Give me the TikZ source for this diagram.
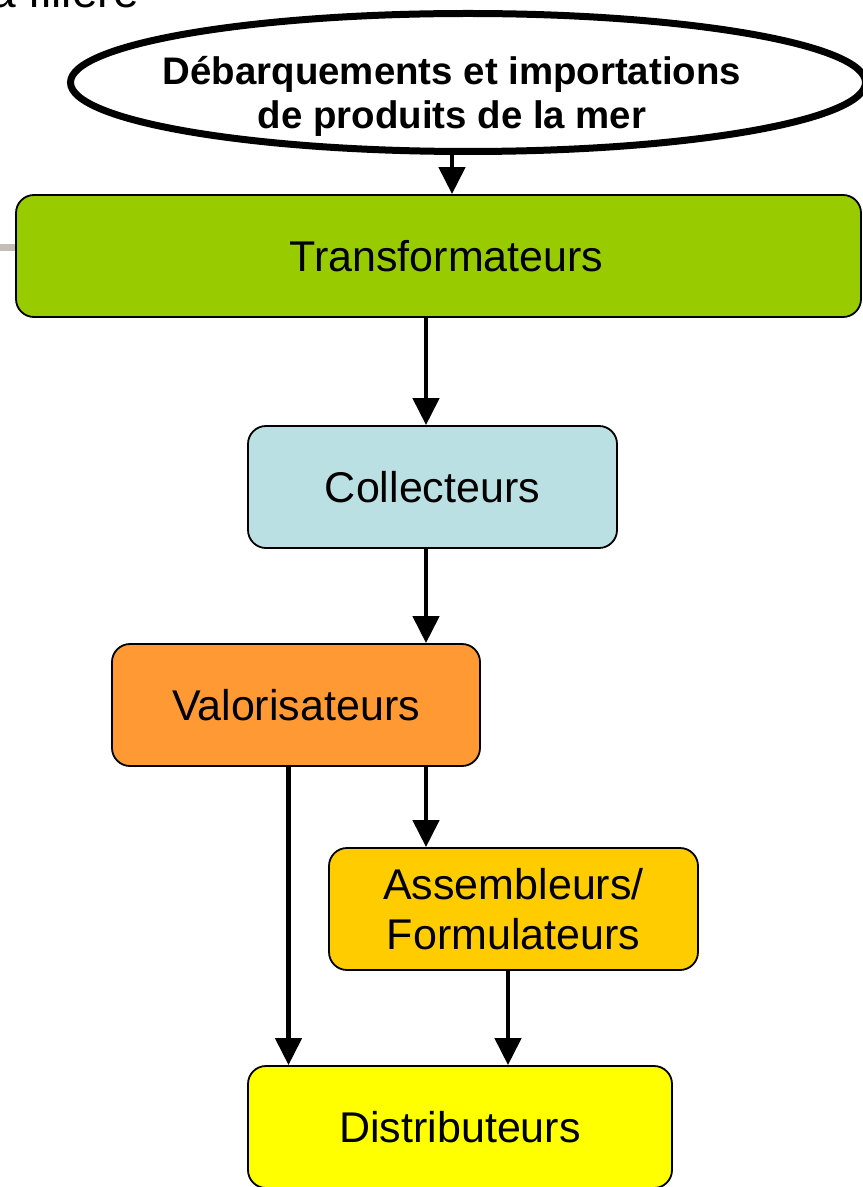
\documentclass[tikz,border=0pt]{standalone}
\usepackage{fontspec}
\setmainfont{Liberation Sans}
\usetikzlibrary{shapes.geometric,arrows.meta}

\definecolor{transgreen}{RGB}{153,204,0}
\definecolor{collblue}{RGB}{187,224,227}
\definecolor{valorange}{RGB}{255,153,51}
\definecolor{asmgold}{RGB}{255,204,0}
\definecolor{distyellow}{RGB}{255,255,0}
\definecolor{bargray}{RGB}{196,189,181}

\tikzset{
  box/.style={draw, rectangle, rounded corners=9pt, line width=0.9pt, minimum height=61pt, align=center, font=\fontsize{21.5}{25}\selectfont},
  arr/.style={line width=2.3pt, -{Triangle[width=13pt,length=13.5pt]}},
}

\begin{document}
\begin{tikzpicture}
            \useasboundingbox (0,0) rectangle (431pt,-593.5pt);
            \draw[bargray, line width=3.5pt] (0,-124pt) -- (9pt,-124pt);
            \node (title) [anchor=base west, inner sep=0pt, font=\fontsize{23}{27}\selectfont] at (-5pt,-4pt) {a filière};

            \node (src) [draw, ellipse, line width=3.5pt, minimum width=397.5pt, minimum height=69pt, inner sep=0pt] at (234pt,-41.25pt) {};
            \node (srctext) [align=center, font=\fontsize{19.2}{22}\selectfont\bfseries] at ([xshift=-8pt, yshift=-7pt]src.center) {Débarquements et importations\\de produits de la mer};
            \node (trans) [box, fill=transgreen, minimum width=422.5pt, node distance=86.75pt, below of=src, xshift=-14.75pt] {\hspace*{8pt}Transformateurs};
            \node (coll) [box, fill=collblue, minimum width=184.5pt, node distance=115.5pt, below of=trans, xshift=-3pt] {Collecteurs};
            \node (val) [box, fill=valorange, minimum width=184pt, node distance=109pt, below of=coll, xshift=-68.25pt] {Valorisateurs};
            \node (asm) [box, fill=asmgold, minimum width=184.5pt, node distance=102pt, below of=val, xshift=108.75pt] {Assembleurs/\\Formulateurs};
            \node (dist) [box, fill=distyellow, minimum width=212pt, node distance=109pt, below of=asm, xshift=-26.75pt] {Distributeurs};

            \draw[arr] ([xshift=-8pt]src.south) -- ([xshift=-8pt]src.south |- trans.north);
            \draw[arr] ([xshift=-3.25pt]coll.north |- trans.south) -- ([xshift=-3.25pt]coll.north);
            \draw[arr] ([xshift=-3.25pt]coll.south) -- ([xshift=-3.25pt]coll.south |- val.north);
            \draw[arr] ([xshift=-43.75pt]asm.north |- val.south) -- ([xshift=-43.75pt]asm.north);
            \draw[arr] ([xshift=-3.75pt]val.south) -- ([xshift=-3.75pt]val.south |- dist.north);
            \draw[arr] ([xshift=-2.75pt]asm.south) -- ([xshift=-2.75pt]asm.south |- dist.north);
        \end{tikzpicture}
\end{document}
